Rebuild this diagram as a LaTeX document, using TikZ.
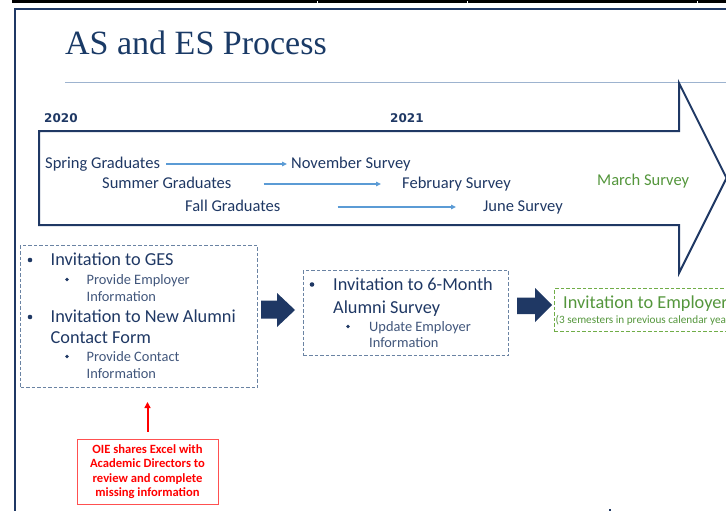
\documentclass[tikz,border=0pt]{standalone}
\usepackage{fontspec}
\setmainfont{Carlito}
\newfontfamily\titlefont{Liberation Serif}
\newfontfamily\yearfont{DejaVu Sans}
\usetikzlibrary{arrows.meta}
\definecolor{navy}{HTML}{1F3864}
\definecolor{titleblue}{HTML}{1A3A66}
\definecolor{rulegray}{HTML}{9DB3CF}
\definecolor{flowblue}{HTML}{5B9BD5}
\definecolor{dashgray}{HTML}{6A83A3}
\definecolor{grn}{HTML}{54963C}
\definecolor{grndash}{HTML}{70AD47}
\definecolor{redline}{HTML}{FF5050}
\tikzset{
  lbl/.style={inner sep=0pt, anchor=base west, text height=11.5pt, text depth=3.5pt},
  rowtext/.style={lbl, text=navy, font=\fontsize{16.5}{19}\selectfont},
  yeartext/.style={lbl, text=navy, font=\yearfont\bfseries\fontsize{12}{14}\selectfont},
  bigitem/.style={lbl, text=navy, font=\fontsize{18.3}{22}\selectfont},
  smallitem/.style={lbl, text=navy!85!white, font=\fontsize{14.4}{17}\selectfont},
  bigdot/.style={fill=navy},
  flow/.style={flowblue, line width=1.5pt, -{Triangle[length=5pt,width=4.5pt]}},
  dashbox/.style={draw=dashgray, line width=1pt, dash pattern=on 3.5pt off 2pt, anchor=north west, inner sep=0pt},
  blockarrow/.style={fill=navy, draw=none},
}
\begin{document}
\begin{tikzpicture}[x=1pt, y=-1pt]
\useasboundingbox (0,0) rectangle (726,511);
% window edge and slide frame
\fill[black] (12,0) rectangle (726,3);
\foreach \t in {317,467,697} \fill[white] (\t,1.5) rectangle (\t+1,3);
\draw[navy, line width=2.5pt] (15,511) -- (15,9) -- (726,9);
\fill[navy] (609,509) rectangle (611,511);

% title and rule
\node[inner sep=0pt, anchor=base west, text=titleblue, font=\titlefont\fontsize{34}{40}\selectfont] (title) at (65,55) {AS and ES Process};
\draw[rulegray, line width=1pt] (65,83) -- (726,83);

% timeline arrow
\draw[navy, line width=2pt, line join=miter] (39,131) -- (679,131) -- (679,83) -- (726.5,178) -- (679,273) -- (679,225) -- (39,225) -- cycle;
\node[yeartext] (y2020) at (44,122) {2020};
\node[yeartext] (y2021) at (390,122) {2021};

\node[rowtext] (spring) at (45,168) {Spring Graduates};
\node[rowtext] (nov) at (291,168) {November Survey};
\node[rowtext] (summer) at (102,188) {Summer Graduates};
\node[rowtext] (feb) at (402,188) {February Survey};
\node[rowtext] (fall) at (185,211) {Fall Graduates};
\node[rowtext] (june) at (483,211) {June Survey};
\node[rowtext, text=grn] (march) at (597,185) {March Survey};

\draw[flow] ([xshift=6pt]spring.east) -- ([xshift=-4pt]nov.west);
\draw[flow] ([xshift=32pt]summer.east) -- ([xshift=-21pt]feb.west);
\draw[flow] ([xshift=57pt]fall.east) -- ([xshift=-27pt]june.west);

% first step
\node[dashbox, minimum width=237pt, minimum height=142pt] (box1) at (20,245) {};
\fill[bigdot] (30,260) circle (2.3pt);
\node[bigitem] (ges) at (50.5,265) {Invitation to GES};
\fill[bigdot] (67,279.5) circle (1.9pt);
\node[smallitem] (emp1) at (86.5,284) {Provide Employer};
\node[smallitem] (inf1) at (86.5,301) {Information};
\fill[bigdot] (30,317) circle (2.3pt);
\node[bigitem] (alum1) at (50.5,322) {Invitation to New Alumni};
\node[bigitem] (alum2) at (50.5,343) {Contact Form};
\fill[bigdot] (67,356.5) circle (1.9pt);
\node[smallitem] (cont1) at (86.5,361) {Provide Contact};
\node[smallitem] (cont2) at (86.5,378) {Information};

% second step
\fill[blockarrow] (261,300.5) -- (277,300.5) -- (277,293) -- (295,310) -- (277,327) -- (277,318.5) -- (261,318.5) -- cycle;
\node[dashbox, minimum width=205pt, minimum height=85pt] (box2) at (303,270) {};
\fill[bigdot] (312,284.5) circle (2.3pt);
\node[bigitem] (six1) at (333,290) {Invitation to 6-Month};
\node[bigitem] (six2) at (333,313) {Alumni Survey};
\fill[bigdot] (348,326.5) circle (1.9pt);
\node[smallitem] (upd1) at (369,331) {Update Employer};
\node[smallitem] (upd2) at (369,347) {Information};

% third step
\fill[blockarrow] (517,297.5) -- (535,297.5) -- (535,288) -- (552,305) -- (535,322) -- (535,314) -- (517,314) -- cycle;
\node[dashbox, draw=grndash, minimum width=206pt, minimum height=43pt] (box3) at (554,288) {};
\node[bigitem, text=grn] (empinv) at (563,308) {Invitation to Employer};
\node[lbl, text=grn, font=\fontsize{11.2}{13}\selectfont, text height=8pt, text depth=2pt] (sem) at (555.5,323) {(3 semesters in previous calendar year)};

% review note
\node[draw=redline, line width=1pt, minimum width=141pt, minimum height=65pt, inner sep=0pt, align=center, text=red, font=\bfseries\fontsize{12.6}{14.3}\selectfont] (oie) at (147.5,471.5) {OIE shares Excel with\\Academic Directors to\\review and complete\\missing information};
\draw[red, line width=2pt, -{Triangle[length=6pt,width=6pt]}, shorten <=7pt, shorten >=14pt] (oie.north) -- (oie.north |- box1.south);
\end{tikzpicture}
\end{document}
